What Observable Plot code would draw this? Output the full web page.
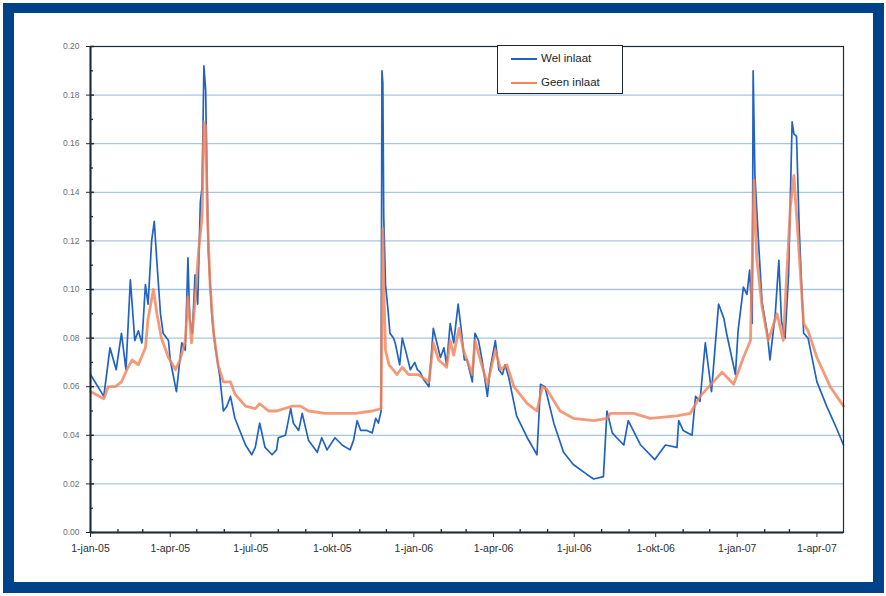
<!DOCTYPE html>
<html><head><meta charset="utf-8">
<script src="https://cdn.jsdelivr.net/npm/d3@7"></script>
<script src="https://cdn.jsdelivr.net/npm/@observablehq/plot@0.6"></script>
<style>
body{margin:0;background:#fff;}
#wrap{position:relative;width:886px;height:596px;overflow:hidden;background:#fff;font-family:"Liberation Sans",Arial,sans-serif;}
#chart{position:absolute;left:0;top:0;}
#frame{position:absolute;left:3px;top:3px;width:859px;height:569px;border:11px solid #00428a;border-top-width:10px;pointer-events:none;z-index:3;}
#legend{position:absolute;left:497px;top:45px;width:124px;height:47px;border:1.5px solid #1b2630;background:#fff;z-index:2;font-size:11.5px;color:#1b2630;}
#legend .row{position:absolute;left:13px;height:14px;line-height:14px;white-space:nowrap;}
#legend .sw{display:inline-block;width:26px;vertical-align:middle;margin-right:4px;}
</style></head>
<body>
<div id="wrap">
  <div id="chart"></div>
  <div id="legend"></div>
  <div id="frame"></div>
</div>
<script>
// ---- data (day = days since 1-jan-2005) ----
const startDate = "2005-01-01";
const endDate = "2007-05-01";
const seriesNames = ["Wel inlaat", "Geen inlaat"];
const seriesColors = ["#2262c2", "#f2845a"];

const welDays = [0,15,22,29,35,40,45,50,54,58,62,65,69,72,75,79,82,88,90,97,103,107,110,112,115,118,121,124,126,128,130,131,133,137,141,146,150,154,158,163,175,182,186,191,197,205,210,212,220,226,229,235,239,246,256,261,267,276,284,293,297,301,305,312,318,322,325,328,329,330,331,333,336,338,342,344,349,352,357,361,366,369,372,376,382,387,391,395,399,402,406,410,415,419,422,425,431,434,438,442,448,451,457,461,465,468,472,481,493,504,508,513,523,534,545,560,568,579,583,589,594,602,607,621,637,649,662,664,669,679,683,688,694,701,709,715,718,728,731,737,741,744,747,748,750,754,758,764,767,773,777,780,784,788,792,794,797,800,805,810,820,831,842,850];
const welValues = [0.065,0.056,0.076,0.067,0.082,0.067,0.104,0.079,0.083,0.078,0.102,0.094,0.120,0.128,0.111,0.090,0.082,0.079,0.071,0.058,0.078,0.075,0.113,0.088,0.082,0.106,0.094,0.136,0.142,0.192,0.182,0.157,0.116,0.089,0.076,0.064,0.050,0.052,0.056,0.047,0.036,0.032,0.035,0.045,0.035,0.032,0.034,0.039,0.040,0.051,0.045,0.042,0.049,0.038,0.033,0.039,0.034,0.039,0.036,0.034,0.038,0.046,0.042,0.042,0.041,0.047,0.045,0.050,0.190,0.185,0.130,0.102,0.091,0.082,0.080,0.078,0.069,0.080,0.073,0.067,0.070,0.067,0.066,0.063,0.060,0.084,0.078,0.072,0.076,0.069,0.086,0.078,0.094,0.082,0.071,0.071,0.062,0.082,0.079,0.071,0.056,0.067,0.079,0.067,0.065,0.069,0.064,0.048,0.039,0.032,0.061,0.060,0.045,0.033,0.028,0.024,0.022,0.023,0.050,0.041,0.039,0.036,0.046,0.036,0.030,0.036,0.035,0.046,0.042,0.040,0.056,0.054,0.078,0.058,0.094,0.088,0.082,0.065,0.083,0.101,0.098,0.108,0.086,0.190,0.147,0.120,0.095,0.082,0.071,0.090,0.112,0.087,0.080,0.106,0.169,0.164,0.163,0.125,0.082,0.080,0.062,0.052,0.043,0.036];

const geenDays = [0,15,20,28,35,41,47,54,62,65,71,75,80,88,96,101,107,110,114,118,122,126,128,130,132,135,139,144,150,158,163,175,186,191,201,210,228,237,246,265,284,299,318,328,330,331,333,337,346,352,359,370,382,387,393,402,406,410,416,421,425,431,434,440,448,457,463,470,478,493,504,510,515,530,545,568,583,587,613,632,662,677,688,703,713,726,737,745,749,752,758,765,775,782,790,794,799,805,810,820,835,850];
const geenValues = [0.058,0.055,0.060,0.060,0.062,0.067,0.071,0.069,0.076,0.088,0.100,0.090,0.080,0.072,0.067,0.071,0.079,0.097,0.078,0.095,0.116,0.130,0.169,0.167,0.130,0.102,0.082,0.069,0.062,0.062,0.057,0.052,0.051,0.053,0.050,0.050,0.052,0.052,0.050,0.049,0.049,0.049,0.050,0.051,0.125,0.102,0.075,0.069,0.065,0.068,0.065,0.065,0.062,0.078,0.071,0.068,0.079,0.073,0.084,0.075,0.071,0.065,0.079,0.071,0.061,0.075,0.067,0.069,0.060,0.053,0.050,0.060,0.059,0.050,0.047,0.046,0.047,0.049,0.049,0.047,0.048,0.049,0.056,0.062,0.066,0.061,0.072,0.079,0.145,0.113,0.093,0.079,0.090,0.079,0.134,0.147,0.120,0.086,0.083,0.072,0.060,0.052];

const xTickDates = ["2005-01-01","2005-04-01","2005-07-01","2005-10-01","2006-01-01","2006-04-01","2006-07-01","2006-10-01","2007-01-01","2007-04-01"];
const xTickLabels = ["1-jan-05","1-apr-05","1-jul-05","1-okt-05","1-jan-06","1-apr-06","1-jul-06","1-okt-06","1-jan-07","1-apr-07"];
const yTicks = [0,0.02,0.04,0.06,0.08,0.10,0.12,0.14,0.16,0.18,0.20];
const yTickLabels = ["0.00","0.02","0.04","0.06","0.08","0.10","0.12","0.14","0.16","0.18","0.20"];
const yMinorTicks = [0.01,0.03,0.05,0.07,0.09,0.11,0.13,0.15,0.17,0.19];

// ---- build ----
const d0 = new Date(startDate + "T00:00:00Z");
const toDate = d => new Date(d0.getTime() + d * 86400000);
const wel = welDays.map((d, i) => ({date: toDate(d), value: welValues[i]}));
const geen = geenDays.map((d, i) => ({date: toDate(d), value: geenValues[i]}));
const xTicks = xTickDates.map(s => new Date(s + "T00:00:00Z"));
const monthTicks = d3.utcMonth.range(new Date(startDate + "T00:00:00Z"), new Date(endDate + "T00:00:00Z"))
  .filter(m => m.getUTCMonth() % 3 !== 0);

const W = 886, H = 596, mL = 90, mR = 43, mT = 46, mB = 64;
const pw = W - mL - mR, ph = H - mT - mB;

const chart = Plot.plot({
  width: W, height: H,
  marginLeft: mL, marginRight: mR, marginTop: mT, marginBottom: mB,
  style: {background: "transparent", fontFamily: "Liberation Sans, Arial, sans-serif", color: "#1d2b36", overflow: "visible"},
  x: {type: "utc", domain: [new Date(startDate + "T00:00:00Z"), new Date(endDate + "T00:00:00Z")],
      ticks: xTicks, tickSize: 5, tickPadding: 7,
      tickFormat: d => xTickLabels[xTicks.findIndex(t => +t === +d)], label: null},
  y: {domain: [0, 0.2], ticks: yTicks, tickSize: 4, tickPadding: 7,
      tickFormat: d => yTickLabels[yTicks.findIndex(t => Math.abs(t - d) < 1e-9)], label: null},
  marks: [
    Plot.ruleY(yTicks.slice(1, -1), {stroke: "#a7c7de", strokeWidth: 1.3}),
    Plot.line(wel, {x: "date", y: "value", stroke: seriesColors[0], strokeWidth: 1.7, strokeLinejoin: "round"}),
    Plot.line(geen, {x: "date", y: "value", stroke: seriesColors[1], strokeWidth: 2.8, strokeOpacity: 0.82, strokeLinejoin: "round"}),
    Plot.frame({stroke: "#1d2b36", strokeWidth: 1.2}),
    Plot.ruleY([0], {stroke: "#1d2b36", strokeWidth: 2}),
    Plot.ruleX([new Date(startDate + "T00:00:00Z")], {stroke: "#1d2b36", strokeWidth: 2}),
    Plot.tickY(yMinorTicks, {stroke: "#1d2b36", strokeWidth: 1.3, insetRight: pw - 3}),
    Plot.tickY(yTicks, {stroke: "#1d2b36", strokeWidth: 1.5, insetRight: pw - 4}),
    Plot.tickX(monthTicks, {stroke: "#1d2b36", strokeWidth: 1.3, insetTop: ph - 3})
  ]
});
document.getElementById("chart").appendChild(chart);

const svg = d3.select(chart);
svg.selectAll('g[aria-label^="y-axis"] text').attr("font-size", 8.5).attr("fill", "#6b6f75");
svg.selectAll('g[aria-label^="x-axis"] text').attr("font-size", 10.5).attr("fill", "#2a2f35");

// legend
const lg = document.getElementById("legend");
seriesNames.forEach((name, i) => {
  const row = document.createElement("div");
  row.className = "row";
  row.style.top = (i === 0 ? 5 : 29) + "px";
  row.innerHTML = `<span class="sw" style="border-top:${i === 0 ? 2 : 2.5}px solid ${seriesColors[i]}"></span>${name}`;
  lg.appendChild(row);
});
</script>
</body></html>
